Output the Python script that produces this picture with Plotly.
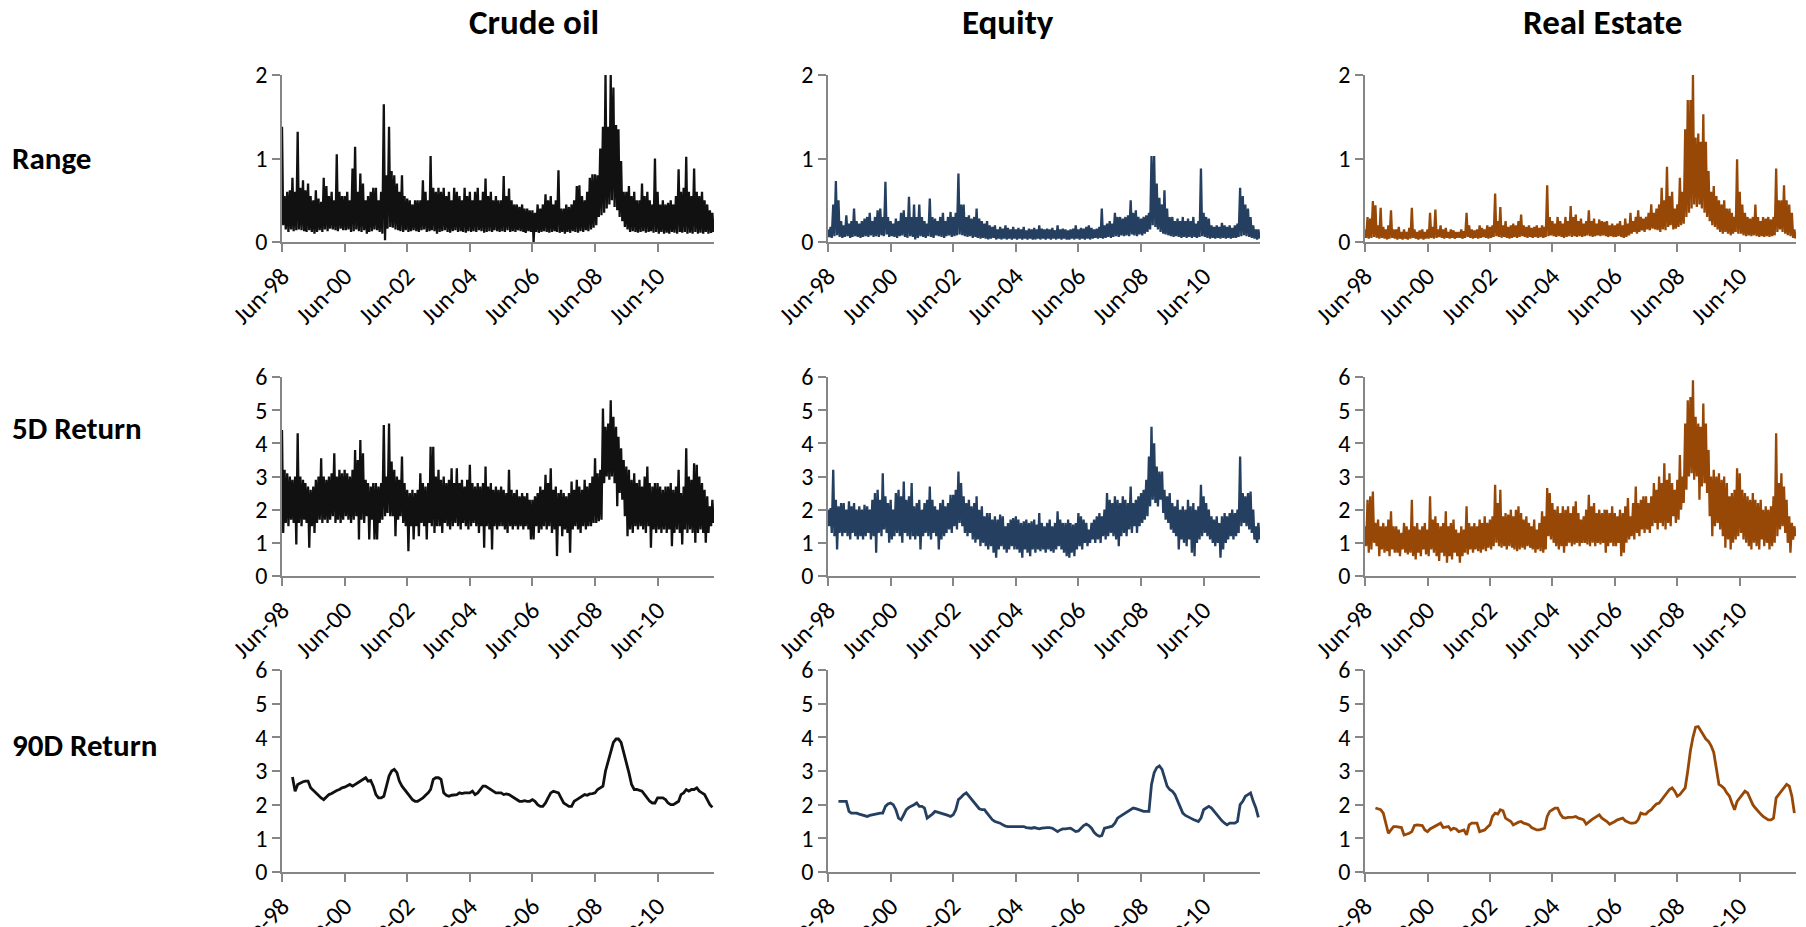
import pandas as pd
import plotly.graph_objects as go

# monthly readings, Jun-98 .. Mar-12 (hi = monthly peak, lo = monthly trough)
oil_range_hi = [1.38, 0.55, 0.6, 0.62, 0.77, 0.6, 1.32, 0.65, 0.74, 0.62, 0.7, 0.55,
                0.5, 0.62, 0.52, 0.48, 0.77, 0.67, 0.55, 0.6, 0.5, 1.05, 0.6, 0.55,
                0.55, 0.6, 0.5, 0.88, 1.14, 0.6, 0.82, 0.7, 0.5, 0.55, 0.6, 0.65,
                0.65, 0.5, 0.6, 1.65, 0.8, 1.38, 0.85, 0.8, 0.7, 0.6, 0.8, 0.55,
                0.52, 0.5, 0.45, 0.5, 0.5, 0.5, 0.74, 0.6, 0.5, 1.03, 0.65, 0.6,
                0.65, 0.6, 0.65, 0.55, 0.6, 0.5, 0.65, 0.6, 0.55, 0.5, 0.65, 0.55,
                0.6, 0.5, 0.6, 0.65, 0.5, 0.6, 0.76, 0.55, 0.6, 0.5, 0.55, 0.5,
                0.5, 0.79, 0.55, 0.64, 0.5, 0.45, 0.45, 0.42, 0.45, 0.4, 0.4, 0.38,
                0.38, 0.35, 0.45, 0.4, 0.45, 0.57, 0.5, 0.55, 0.45, 0.5, 0.86, 0.4,
                0.4, 0.45, 0.42, 0.45, 0.5, 0.67, 0.68, 0.55, 0.5, 0.6, 0.77, 0.81,
                0.81, 0.8, 1.12, 1.38, 2.0, 1.38, 2.0, 1.85, 1.4, 1.35, 0.97, 0.6,
                0.6, 0.67, 0.55, 0.6, 0.5, 0.5, 0.7, 0.55, 0.6, 0.5, 0.45, 1.0,
                0.6, 0.45, 0.5, 0.45, 0.47, 0.5, 0.45, 0.55, 0.87, 0.6, 0.65, 1.02,
                0.6, 0.55, 0.88, 0.6, 0.55, 0.6, 0.5, 0.45, 0.38, 0.35]
oil_range_lo = [0.2, 0.15, 0.12, 0.15, 0.13, 0.14, 0.15, 0.14, 0.13, 0.12, 0.14, 0.12,
                0.1, 0.12, 0.14, 0.12, 0.15, 0.13, 0.16, 0.15, 0.14, 0.13, 0.16, 0.14,
                0.14, 0.15, 0.12, 0.13, 0.15, 0.13, 0.12, 0.14, 0.1, 0.12, 0.13, 0.15,
                0.14, 0.12, 0.1, 0.02, 0.16, 0.18, 0.17, 0.15, 0.14, 0.13, 0.12, 0.14,
                0.12, 0.13, 0.14, 0.13, 0.12, 0.14, 0.15, 0.12, 0.13, 0.14, 0.13, 0.1,
                0.12, 0.13, 0.14, 0.12, 0.11, 0.13, 0.14, 0.12, 0.13, 0.12, 0.11, 0.13,
                0.12, 0.13, 0.12, 0.14, 0.13, 0.11, 0.12, 0.13, 0.12, 0.14, 0.13, 0.12,
                0.13, 0.12, 0.14, 0.12, 0.13, 0.12, 0.14, 0.13, 0.12, 0.11, 0.13, 0.12,
                0.0, 0.12, 0.11, 0.12, 0.13, 0.12, 0.11, 0.12, 0.13, 0.12, 0.11, 0.12,
                0.1, 0.12, 0.11, 0.13, 0.12, 0.11, 0.13, 0.12, 0.14, 0.13, 0.15, 0.17,
                0.2, 0.3, 0.32, 0.35, 0.4, 0.45, 0.5, 0.42, 0.38, 0.3, 0.25, 0.18,
                0.15, 0.12, 0.13, 0.12, 0.11, 0.12, 0.13, 0.11, 0.12, 0.13, 0.11, 0.12,
                0.1, 0.12, 0.1, 0.11, 0.1, 0.12, 0.11, 0.1, 0.12, 0.11, 0.12, 0.1,
                0.11, 0.1, 0.12, 0.1, 0.11, 0.1, 0.12, 0.1, 0.11, 0.12]

eq_range_hi = [0.15, 0.18, 0.45, 0.73, 0.5, 0.25, 0.2, 0.32, 0.22, 0.25, 0.4, 0.25,
               0.22, 0.25, 0.28, 0.3, 0.35, 0.25, 0.3, 0.38, 0.4, 0.3, 0.72, 0.3,
               0.25, 0.22, 0.28, 0.25, 0.35, 0.38, 0.3, 0.54, 0.3, 0.45, 0.3, 0.45,
               0.3, 0.25, 0.22, 0.52, 0.3, 0.28, 0.25, 0.3, 0.35, 0.25, 0.3, 0.36,
               0.3, 0.35, 0.82, 0.45, 0.45, 0.3, 0.32, 0.28, 0.3, 0.4, 0.28, 0.25,
               0.22, 0.25, 0.2, 0.18, 0.2, 0.15, 0.18, 0.16, 0.2, 0.17, 0.15, 0.18,
               0.15, 0.17, 0.15, 0.18, 0.14, 0.16, 0.15, 0.17, 0.15, 0.2, 0.16, 0.15,
               0.16, 0.15, 0.17, 0.14, 0.2, 0.15, 0.16, 0.15, 0.14, 0.15, 0.16, 0.2,
               0.15, 0.17, 0.16, 0.18, 0.2, 0.17, 0.15, 0.16, 0.18, 0.4, 0.2, 0.22,
               0.25, 0.22, 0.35, 0.3, 0.3, 0.28, 0.3, 0.32, 0.5, 0.35, 0.38, 0.3,
               0.28, 0.3, 0.32, 0.35, 1.03, 1.03, 0.7, 0.53, 0.45, 0.62, 0.4, 0.3,
               0.3, 0.25, 0.28, 0.25, 0.3, 0.25, 0.28, 0.25, 0.3, 0.22, 0.25, 0.88,
               0.35, 0.3, 0.28, 0.2, 0.18, 0.2, 0.18, 0.23, 0.2, 0.18, 0.2, 0.17,
               0.2, 0.22, 0.65, 0.55, 0.45, 0.4, 0.3, 0.2, 0.15, 0.15]
eq_range_lo = [0.06, 0.05, 0.07, 0.08, 0.06, 0.05, 0.06, 0.07, 0.05, 0.06, 0.07, 0.06,
               0.05, 0.06, 0.07, 0.06, 0.08, 0.06, 0.07, 0.06, 0.08, 0.07, 0.09, 0.06,
               0.07, 0.06, 0.05, 0.07, 0.08, 0.06, 0.05, 0.07, 0.06, 0.03, 0.05, 0.07,
               0.06, 0.05, 0.07, 0.06, 0.05, 0.08, 0.07, 0.06, 0.05, 0.07, 0.08, 0.06,
               0.07, 0.08, 0.09, 0.08, 0.07, 0.06, 0.07, 0.05, 0.06, 0.05, 0.04, 0.05,
               0.04, 0.03, 0.04, 0.05, 0.03, 0.04, 0.03, 0.04, 0.03, 0.04, 0.03, 0.04,
               0.03, 0.04, 0.03, 0.04, 0.03, 0.04, 0.03, 0.03, 0.04, 0.03, 0.04, 0.03,
               0.04, 0.03, 0.04, 0.03, 0.04, 0.03, 0.04, 0.03, 0.03, 0.04, 0.03, 0.04,
               0.03, 0.04, 0.03, 0.04, 0.03, 0.04, 0.05, 0.04, 0.05, 0.04, 0.05, 0.06,
               0.05, 0.06, 0.07, 0.06, 0.08, 0.07, 0.08, 0.07, 0.09, 0.08, 0.07, 0.09,
               0.08, 0.1, 0.12, 0.15, 0.2, 0.18, 0.15, 0.12, 0.1, 0.09, 0.08, 0.07,
               0.06, 0.07, 0.06, 0.05, 0.06, 0.05, 0.06, 0.05, 0.06, 0.05, 0.06, 0.07,
               0.06, 0.05, 0.04, 0.05, 0.04, 0.05, 0.04, 0.05, 0.04, 0.05, 0.04, 0.05,
               0.05, 0.06, 0.07, 0.08, 0.07, 0.06, 0.05, 0.04, 0.03, 0.04]

re_range_hi = [0.15, 0.3, 0.28, 0.49, 0.44, 0.2, 0.41, 0.18, 0.15, 0.2, 0.38, 0.15,
               0.15, 0.18, 0.12, 0.15, 0.12, 0.17, 0.41, 0.15, 0.12, 0.14, 0.15, 0.12,
               0.15, 0.35, 0.18, 0.39, 0.15, 0.2, 0.15, 0.17, 0.12, 0.15, 0.14, 0.12,
               0.12, 0.15, 0.13, 0.35, 0.2, 0.15, 0.14, 0.15, 0.2, 0.17, 0.15, 0.2,
               0.18, 0.2, 0.58, 0.25, 0.42, 0.2, 0.25, 0.18, 0.2, 0.22, 0.2, 0.25,
               0.33, 0.2, 0.18, 0.2, 0.17, 0.18, 0.2, 0.17, 0.2, 0.18, 0.68, 0.3,
               0.25, 0.22, 0.3, 0.25, 0.22, 0.3, 0.25, 0.43, 0.3, 0.33, 0.25, 0.28,
               0.22, 0.25, 0.38, 0.25, 0.28, 0.22, 0.27, 0.25, 0.24, 0.25, 0.2, 0.22,
               0.2, 0.22, 0.25, 0.2, 0.28, 0.22, 0.35, 0.25, 0.3, 0.38, 0.3, 0.28,
               0.3, 0.35, 0.45, 0.35, 0.4, 0.45, 0.65, 0.5, 0.9, 0.55, 0.6, 0.4,
               0.45, 0.77, 0.6, 1.35, 1.7, 1.7, 2.0, 1.25, 1.3, 1.2, 1.53, 1.2,
               0.85, 0.6, 0.67, 0.55, 0.5, 0.45, 0.5, 0.4, 0.4, 0.35, 0.3, 0.99,
               0.6, 0.45, 0.35, 0.3, 0.28, 0.3, 0.45, 0.3, 0.25, 0.3, 0.28, 0.3,
               0.27, 0.3, 0.88, 0.5, 0.5, 0.68, 0.5, 0.45, 0.35, 0.15]
re_range_lo = [0.05, 0.04, 0.05, 0.06, 0.05, 0.04, 0.05, 0.04, 0.03, 0.04, 0.05, 0.04,
               0.03, 0.04, 0.03, 0.04, 0.03, 0.04, 0.05, 0.04, 0.03, 0.04, 0.03, 0.04,
               0.04, 0.05, 0.04, 0.05, 0.06, 0.05, 0.04, 0.05, 0.04, 0.05, 0.04, 0.05,
               0.05, 0.04, 0.05, 0.06, 0.05, 0.04, 0.05, 0.04, 0.05, 0.06, 0.05, 0.04,
               0.05, 0.06, 0.07, 0.06, 0.05, 0.06, 0.05, 0.04, 0.05, 0.06, 0.05, 0.06,
               0.07, 0.06, 0.05, 0.06, 0.05, 0.06, 0.05, 0.06, 0.05, 0.06, 0.07, 0.08,
               0.07, 0.06, 0.07, 0.06, 0.05, 0.06, 0.07, 0.06, 0.07, 0.06, 0.07, 0.06,
               0.07, 0.08, 0.07, 0.06, 0.07, 0.08, 0.07, 0.08, 0.07, 0.06, 0.07, 0.06,
               0.06, 0.07, 0.06, 0.05, 0.06, 0.08, 0.1, 0.12, 0.1, 0.12, 0.14, 0.12,
               0.15, 0.14, 0.16, 0.15, 0.14, 0.12, 0.15, 0.14, 0.18, 0.2, 0.15, 0.16,
               0.18, 0.2, 0.22, 0.3, 0.35, 0.4, 0.45, 0.42, 0.45, 0.4, 0.35, 0.3,
               0.25, 0.2, 0.18, 0.15, 0.12, 0.1, 0.12, 0.1, 0.08, 0.1, 0.12, 0.1,
               0.1, 0.08, 0.07, 0.08, 0.07, 0.08, 0.07, 0.06, 0.07, 0.06, 0.07, 0.06,
               0.07, 0.08, 0.12, 0.15, 0.12, 0.1, 0.08, 0.07, 0.05, 0.04]

oil_5d_hi = [4.4, 3.2, 3.1, 3.0, 2.9, 3.0, 4.3, 3.0, 2.9, 2.8, 2.7, 2.6,
             2.7, 2.9, 3.0, 3.55, 3.0, 2.9, 3.0, 3.1, 3.7, 3.0, 3.2, 3.1,
             3.2, 3.1, 3.0, 3.2, 3.8, 3.5, 4.1, 3.7, 2.9, 2.8, 2.7, 2.8,
             2.8, 2.7, 2.8, 4.55, 3.0, 4.6, 3.45, 3.2, 3.0, 2.9, 3.6, 2.8,
             2.6, 2.5, 2.6, 2.5, 2.6, 3.1, 2.8, 2.7, 2.8, 3.9, 3.9, 3.0,
             3.2, 2.9, 3.0, 2.8, 2.9, 3.25, 2.8, 3.25, 2.8, 2.9, 2.7, 2.9,
             3.35, 2.8, 2.7, 2.8, 2.7, 2.8, 3.3, 2.7, 2.8, 2.6, 2.7, 2.6,
             2.7, 2.6, 2.5, 3.2, 2.6, 2.5, 2.6, 2.4, 2.5, 2.4, 2.5, 2.3,
             2.3, 2.4, 2.5, 2.7, 2.6, 3.05, 2.8, 3.25, 2.6, 2.7, 2.5, 2.6,
             2.5, 2.4, 2.5, 2.85, 2.6, 2.9, 2.7, 2.6, 2.9, 2.7, 2.8, 3.0,
             3.55, 3.1, 3.2, 5.05, 4.5, 4.6, 5.3, 4.8, 4.5, 4.2, 3.85, 3.5,
             3.3, 3.2, 2.9, 3.1, 2.8, 2.9, 2.7, 3.0, 3.3, 2.8, 2.7, 2.8,
             2.8, 2.7, 2.6, 2.7, 2.7, 2.8, 2.6, 2.7, 3.2, 2.5, 2.7, 3.85,
             3.0, 2.9, 3.4, 3.35, 3.0, 2.8, 2.6, 2.4, 2.1, 2.3]
oil_5d_lo = [1.3, 1.6, 1.5, 1.7, 1.6, 0.95, 1.6, 1.5, 1.7, 1.6, 0.85, 1.5,
             1.3, 1.6, 1.7, 1.6, 1.7, 1.6, 1.7, 1.8, 1.6, 1.7, 1.6, 1.7,
             1.8, 1.7, 1.6, 1.7, 1.8, 1.1, 1.7, 1.6, 1.8, 1.1, 1.7, 1.1,
             1.1, 1.6, 1.7, 1.8, 1.9, 1.8, 1.8, 1.2, 1.7, 1.8, 1.6, 1.5,
             0.75, 1.5, 1.1, 1.5, 1.2, 1.6, 1.5, 1.1, 1.6, 1.5, 1.3, 1.5,
             1.5, 1.3, 1.6, 1.5, 1.4, 1.5, 1.6, 1.5, 1.4, 1.6, 1.5, 1.4,
             1.5, 1.6, 1.5, 1.3, 1.5, 0.85, 1.5, 1.4, 0.8, 1.5, 1.4, 1.5,
             1.5, 1.4, 1.3, 1.5, 1.4, 1.5, 1.4, 1.5, 1.4, 1.5, 1.4, 1.1,
             1.1, 1.5, 1.3, 1.4, 1.5, 1.4, 1.5, 1.3, 1.4, 0.6, 1.5, 1.2,
             1.4, 1.3, 0.7, 1.4, 1.5, 1.4, 1.3, 1.5, 1.4, 1.5, 1.5, 1.6,
             1.6, 1.65, 1.7, 2.8, 3.0, 2.9, 3.0, 2.8, 2.1, 2.5, 2.3, 1.8,
             1.2, 1.4, 1.3, 1.5, 1.4, 1.5, 1.4, 1.3, 1.5, 0.85, 1.4, 1.3,
             1.4, 1.3, 1.4, 1.3, 1.4, 0.9, 1.3, 1.4, 1.3, 0.95, 1.4, 1.3,
             1.4, 1.3, 1.0, 1.3, 1.4, 1.3, 1.0, 1.3, 1.5, 1.6]

eq_5d_hi = [2.0, 2.05, 3.2, 2.3, 2.1, 2.2, 2.2, 2.0, 2.25, 2.1, 2.2, 2.0,
            2.1, 2.0, 2.15, 2.1, 2.0, 2.3, 2.5, 2.6, 2.3, 3.1, 2.4, 2.2,
            2.3, 2.0, 2.5, 2.6, 2.4, 2.85, 2.3, 2.4, 2.8, 2.1, 2.2, 2.3,
            2.0, 2.2, 2.3, 2.7, 2.3, 2.1, 2.0, 2.2, 2.3, 2.1, 2.2, 2.45,
            2.45, 2.6, 3.15, 2.8, 2.4, 2.2, 2.3, 2.1, 2.2, 2.4, 2.0, 2.1,
            1.8, 1.9, 1.9, 1.7, 1.8, 1.7, 1.85, 1.8, 1.5, 1.6, 1.7, 1.75,
            1.8, 1.7, 1.6, 1.65, 1.7, 1.6, 1.65, 1.7, 1.55, 1.9, 1.6, 1.5,
            1.6, 1.7, 1.5, 1.6, 1.95, 1.7, 1.6, 1.6, 1.7, 1.6, 1.55, 1.6,
            1.9, 1.8, 1.7, 1.6, 1.4, 1.6, 1.7, 1.8, 1.9, 1.8, 2.0, 2.5,
            2.3, 2.2, 2.4, 2.3, 2.2, 2.4, 2.3, 2.2, 2.7, 2.2, 2.3, 2.4,
            2.5, 2.6, 2.9, 3.6, 4.5, 4.0, 3.3, 3.15, 3.15, 2.6, 2.4, 2.5,
            2.2, 2.1, 2.3, 2.0, 2.1, 2.0, 2.3, 2.1, 2.2, 2.0, 2.1, 2.75,
            2.4, 2.2, 2.0, 1.8, 1.7, 1.8, 1.6, 1.8, 1.9, 1.8, 1.9, 2.0,
            1.9, 2.0, 3.6, 2.5, 2.4, 2.5, 2.55, 2.0, 1.5, 1.6]
eq_5d_lo = [1.5, 1.3, 1.2, 0.8, 1.3, 1.2, 1.3, 1.2, 1.1, 1.3, 1.2, 1.1,
            1.2, 1.1, 1.2, 1.3, 1.1, 1.2, 0.7, 1.3, 1.2, 1.4, 1.3, 1.0,
            1.1, 1.2, 1.3, 1.2, 1.0, 1.3, 1.2, 1.1, 1.2, 1.1, 1.2, 0.8,
            1.2, 1.3, 1.2, 1.1, 1.3, 1.2, 0.8, 1.1, 1.2, 1.3, 1.4, 1.3,
            1.5, 1.4, 1.6, 1.5, 1.3, 1.2, 1.3, 1.1, 1.0, 1.1, 0.9, 1.0,
            0.9, 0.8, 0.9, 0.7, 0.55, 0.8, 0.9, 0.8, 0.7, 0.8, 0.9, 0.8,
            0.8, 0.7, 0.55, 0.8, 0.7, 0.6, 0.8, 0.7, 0.8, 0.75, 0.8, 0.7,
            0.8, 0.75, 0.7, 0.8, 0.9, 0.8, 0.7, 0.6, 0.55, 0.7, 0.6, 0.8,
            0.9, 0.8, 1.0, 0.9, 1.0, 1.1, 1.0, 1.1, 1.0, 1.2, 1.1, 1.2,
            1.3, 1.2, 1.1, 0.9, 1.2, 1.3, 1.2, 1.4, 1.3, 1.5, 1.3, 1.5,
            1.6, 1.7, 1.8, 2.1, 2.3, 2.2, 2.1, 2.3, 1.9, 1.7, 1.6, 1.4,
            1.3, 1.2, 0.8, 1.1, 1.0, 0.9, 1.1, 0.7, 0.6, 1.0, 1.1, 1.2,
            1.3, 1.2, 1.1, 1.0, 0.9, 1.0, 0.55, 0.8, 1.0, 1.1, 1.2, 1.1,
            1.2, 1.3, 1.5, 1.6, 1.5, 1.4, 1.3, 1.1, 1.0, 1.1]

re_5d_hi = [1.5, 2.3, 2.4, 2.55, 1.6, 1.7, 1.5, 1.6, 1.5, 1.7, 1.95, 1.5,
            1.5, 1.4, 1.3, 1.6, 1.5, 1.4, 2.3, 1.5, 1.6, 1.4, 1.5, 1.6,
            1.4, 2.4, 1.7, 1.8, 1.6, 1.5, 1.6, 1.95, 1.5, 1.6, 1.7, 1.4,
            1.3, 1.5, 1.4, 2.1, 1.6, 1.5, 1.6, 1.5, 1.7, 1.6, 1.8, 1.6,
            1.7, 1.8, 2.75, 2.2, 2.6, 1.8, 1.9, 1.85, 2.0, 1.8, 2.0, 2.1,
            1.9, 1.7, 1.8, 1.6, 1.5, 1.7, 1.4, 1.6, 1.95, 1.8, 2.65, 2.5,
            2.2, 2.0, 2.1, 1.9, 2.1, 2.0, 2.1, 1.9, 2.1, 2.25, 1.9, 1.7,
            1.8, 2.0, 2.45, 2.1, 2.2, 1.9, 2.0, 1.9, 2.0, 2.0, 1.9, 2.1,
            1.9, 1.8, 2.0, 1.9, 2.1, 2.35, 1.8, 2.2, 2.7, 2.2, 2.3, 2.4,
            2.4, 2.2, 2.4, 2.8, 2.6, 3.0, 2.8, 3.4, 2.9, 3.1, 2.8, 2.6,
            2.9, 3.65, 3.0, 4.6, 5.3, 5.4, 5.9, 4.8, 4.6, 4.5, 5.2, 4.6,
            3.8, 3.0, 3.2, 3.0, 3.1, 2.9, 3.0, 2.8, 2.4, 2.5, 2.6, 3.25,
            3.1, 2.6, 2.5, 2.4, 2.3, 2.5, 2.3, 2.2, 2.3, 2.0, 2.1, 2.0,
            2.1, 2.4, 4.3, 2.8, 3.1, 2.7, 2.3, 1.8, 1.6, 1.5]
re_5d_lo = [0.9, 0.7, 0.8, 1.0, 0.9, 0.6, 0.8, 0.7, 0.75, 0.6, 0.8, 0.7,
            0.7, 0.6, 0.8, 0.7, 0.65, 0.7, 0.6, 0.5, 0.7, 0.6, 0.8, 0.65,
            0.6, 0.8, 0.7, 0.6, 0.45, 0.7, 0.6, 0.4, 0.6, 0.5, 0.7, 0.6,
            0.4, 0.6, 0.7, 0.65, 0.8, 0.7, 0.8, 0.75, 0.7, 0.8, 0.75, 0.85,
            0.8, 0.9, 1.0, 0.9, 0.85, 0.9, 0.8, 0.9, 0.85, 0.8, 0.75, 0.8,
            0.85, 0.8, 0.9, 0.85, 0.8, 0.7, 0.8, 0.75, 0.7, 0.8, 1.2, 1.1,
            1.0, 0.9, 0.8, 0.9, 0.7, 0.9, 1.0, 0.9, 0.95, 1.0, 0.9, 1.0,
            1.0, 0.95, 0.9, 1.0, 0.9, 1.0, 0.95, 1.0, 0.7, 0.9, 1.0, 0.9,
            0.9, 1.0, 0.6, 0.7, 1.0, 1.1, 1.2, 1.1, 1.3, 1.2, 1.4, 1.3,
            1.4, 1.3, 1.5, 1.6, 1.4, 1.6, 1.5, 1.4, 1.6, 1.5, 1.8, 1.6,
            1.7, 2.0, 2.2, 2.6, 3.0, 3.1, 2.9, 3.0, 2.3, 2.7, 2.8, 2.5,
            1.8, 1.2, 1.5, 1.6, 1.4, 1.2, 0.85, 1.1, 0.8, 1.0, 1.1, 1.2,
            1.3, 1.1, 1.0, 0.9, 0.8, 1.0, 0.9, 0.8, 1.1, 0.9, 1.0, 0.8,
            0.9, 1.0, 1.2, 1.4, 1.5, 1.3, 1.0, 0.7, 1.1, 1.2]

# 90 day series, monthly from Oct-98 .. Mar-12
oil_90d = [2.82, 2.4, 2.6, 2.65, 2.68, 2.7, 2.7, 2.5,
           2.42, 2.35, 2.28, 2.2, 2.15, 2.22, 2.3, 2.33, 2.38, 2.42, 2.45, 2.5,
           2.52, 2.55, 2.6, 2.55, 2.6, 2.65, 2.7, 2.75, 2.8, 2.7, 2.72, 2.55,
           2.3, 2.2, 2.2, 2.25, 2.55, 2.85, 3.0, 3.05, 2.95, 2.7, 2.55, 2.45,
           2.35, 2.25, 2.15, 2.1, 2.1, 2.15, 2.2, 2.28, 2.35, 2.45, 2.75, 2.8,
           2.8, 2.75, 2.35, 2.28, 2.25, 2.28, 2.3, 2.3, 2.35, 2.33, 2.35, 2.35,
           2.35, 2.4, 2.3, 2.35, 2.45, 2.55, 2.55, 2.5, 2.45, 2.38, 2.35, 2.35,
           2.35, 2.3, 2.32, 2.3, 2.25, 2.2, 2.15, 2.1, 2.1, 2.12, 2.1, 2.1,
           2.15, 2.1, 2.0, 1.95, 1.95, 2.05, 2.2, 2.35, 2.4, 2.38, 2.35, 2.2,
           2.05, 2.0, 1.95, 1.95, 2.1, 2.15, 2.2, 2.25, 2.3, 2.28, 2.32, 2.33,
           2.35, 2.45, 2.5, 2.55, 3.0, 3.3, 3.55, 3.85, 3.95, 3.95, 3.85, 3.55,
           3.3, 2.95, 2.6, 2.45, 2.45, 2.42, 2.4, 2.3, 2.2, 2.1, 2.05, 2.05,
           2.2, 2.2, 2.2, 2.15, 2.05, 2.0, 2.0, 2.05, 2.1, 2.3, 2.35, 2.45,
           2.4, 2.45, 2.45, 2.5, 2.4, 2.35, 2.3, 2.15, 2.0, 1.92]
eq_90d = [2.1, 2.1, 2.1, 2.1, 1.8, 1.75, 1.75, 1.75,
          1.72, 1.7, 1.68, 1.65, 1.68, 1.7, 1.72, 1.72, 1.75, 1.75, 1.95, 2.02,
          2.05, 2.0, 1.85, 1.6, 1.55, 1.7, 1.85, 1.92, 1.95, 2.0, 2.05, 1.95,
          1.95, 1.9, 1.6, 1.65, 1.72, 1.8, 1.78, 1.75, 1.72, 1.7, 1.68, 1.65,
          1.7, 1.85, 2.15, 2.22, 2.3, 2.35, 2.25, 2.15, 2.05, 1.95, 1.88, 1.85,
          1.85, 1.75, 1.65, 1.55, 1.5, 1.48, 1.45, 1.4, 1.36, 1.35, 1.35, 1.35,
          1.35, 1.36, 1.34, 1.35, 1.32, 1.3, 1.3, 1.32, 1.3, 1.28, 1.3, 1.32,
          1.32, 1.32, 1.3, 1.25, 1.2, 1.25, 1.28, 1.28, 1.3, 1.3, 1.25, 1.2,
          1.22, 1.3, 1.38, 1.42, 1.38, 1.3, 1.18, 1.1, 1.06, 1.08, 1.3, 1.32,
          1.33, 1.36, 1.45, 1.6, 1.65, 1.7, 1.75, 1.78, 1.85, 1.9, 1.88, 1.85,
          1.82, 1.8, 1.8, 1.8, 2.6, 2.95, 3.1, 3.15, 3.05, 2.8, 2.55, 2.45,
          2.4, 2.3, 2.1, 1.9, 1.75, 1.68, 1.63, 1.6, 1.56, 1.52, 1.5, 1.6,
          1.85, 1.9, 1.95, 1.9, 1.8, 1.72, 1.6, 1.52, 1.45, 1.4, 1.45, 1.44,
          1.45, 1.5, 2.0, 2.1, 2.25, 2.3, 2.35, 2.1, 1.9, 1.62]
re_90d = [1.9, 1.88, 1.85, 1.75, 1.4, 1.15, 1.25, 1.35,
          1.35, 1.33, 1.32, 1.1, 1.12, 1.15, 1.2, 1.38, 1.4, 1.4, 1.38, 1.25,
          1.2, 1.28, 1.32, 1.35, 1.4, 1.45, 1.32, 1.33, 1.35, 1.25, 1.3, 1.28,
          1.2, 1.22, 1.25, 1.1, 1.4, 1.45, 1.45, 1.45, 1.2, 1.22, 1.25, 1.33,
          1.4, 1.65, 1.75, 1.72, 1.85, 1.82, 1.6, 1.55, 1.5, 1.4, 1.45, 1.48,
          1.5, 1.45, 1.43, 1.4, 1.32, 1.28, 1.25, 1.25, 1.27, 1.3, 1.65, 1.8,
          1.85, 1.9, 1.9, 1.72, 1.62, 1.6, 1.62, 1.62, 1.63, 1.65, 1.6, 1.58,
          1.55, 1.42, 1.5, 1.55, 1.6, 1.65, 1.7, 1.6, 1.55, 1.5, 1.42, 1.45,
          1.5, 1.55, 1.58, 1.6, 1.52, 1.48, 1.45, 1.45, 1.47, 1.55, 1.75, 1.72,
          1.72, 1.8, 1.85, 1.95, 2.02, 2.05, 2.15, 2.25, 2.35, 2.45, 2.5, 2.4,
          2.25, 2.3, 2.4, 2.5, 3.0, 3.6, 4.0, 4.3, 4.32, 4.2, 4.1, 3.95,
          3.88, 3.75, 3.55, 3.1, 2.6, 2.55, 2.48, 2.35, 2.25, 2.05, 1.85, 2.1,
          2.2, 2.3, 2.4, 2.35, 2.15, 2.0, 1.9, 1.8, 1.72, 1.65, 1.6, 1.55,
          1.55, 1.6, 2.2, 2.3, 2.4, 2.5, 2.6, 2.55, 2.25, 1.75]

assets = ['Crude oil', 'Equity', 'Real Estate']
measures = ['Range', '5D Return', '90D Return']
colors = ['#111111', '#243F60', '#974806']
tick_dates = ['1998-06-01', '2000-06-01', '2002-06-01', '2004-06-01',
              '2006-06-01', '2008-06-01', '2010-06-01']
tick_text = ['Jun-98', 'Jun-00', 'Jun-02', 'Jun-04', 'Jun-06', 'Jun-08', 'Jun-10']

months = pd.date_range('1998-06-01', periods=170, freq='MS')
half = pd.Timedelta(days=14)


def zigzag(hi, lo):
    xs, ys = [], []
    for d, h, l in zip(months, hi, lo):
        xs += [d, d + half]
        ys += [h, l]
    return xs, ys


noisy = [[(oil_range_hi, oil_range_lo), (eq_range_hi, eq_range_lo), (re_range_hi, re_range_lo)],
         [(oil_5d_hi, oil_5d_lo), (eq_5d_hi, eq_5d_lo), (re_5d_hi, re_5d_lo)]]
smooth = [oil_90d, eq_90d, re_90d]

# page body adds an 8px offset, positions below are relative to the figure div
W, H = 1806, 927
col_px = [(274, 706), (820, 1252), (1357, 1788)]
row_px = [(67, 234), (369, 568), (662, 864)]
font = 'Calibri, Carlito, Lato, sans-serif'
axis_grey = '#868686'

fig = go.Figure()
layout = {}
n = 0
for r in range(3):
    for c in range(3):
        n += 1
        suffix = '' if n == 1 else str(n)
        if r < 2:
            hi, lo = noisy[r][c]
            xs, ys = zigzag(hi, lo)
            width = 2.3
        else:
            xs = months[4:4 + len(smooth[c])]
            ys = smooth[c]
            width = 2.8
        fig.add_trace(go.Scatter(x=xs, y=ys, mode='lines', showlegend=False,
                                 line=dict(color=colors[c], width=width),
                                 xaxis='x' + suffix, yaxis='y' + suffix))
        x0, x1 = col_px[c]
        y0, y1 = row_px[r]
        layout['xaxis' + suffix] = dict(
            domain=[x0 / W, x1 / W], anchor='y' + suffix, type='date',
            range=['1998-06-01', '2012-03-20'], automargin=False,
            tickvals=tick_dates, ticktext=tick_text, tickangle=-45,
            showline=True, linecolor=axis_grey, linewidth=1.5,
            ticks='outside', ticklen=8, tickcolor=axis_grey, tickwidth=1.5,
            showgrid=False, zeroline=False,
            tickfont=dict(family=font, size=25, color='#000000'))
        ymax = 2 if r == 0 else 6
        layout['yaxis' + suffix] = dict(
            domain=[1 - y1 / H, 1 - y0 / H], anchor='x' + suffix, automargin=False,
            range=[0, ymax], tickvals=list(range(ymax + 1)),
            showline=True, linecolor=axis_grey, linewidth=1.5,
            ticks='outside', ticklen=8, tickcolor=axis_grey, tickwidth=1.5,
            showgrid=False, zeroline=False,
            tickfont=dict(family=font, size=24, color='#000000'))

annotations = []
title_x = [526, 1000, 1594]
for c in range(3):
    annotations.append(dict(text='<b>' + assets[c] + '</b>', x=title_x[c] / W, y=1 - 14 / H,
                            xref='paper', yref='paper', xanchor='center', yanchor='middle',
                            showarrow=False, font=dict(family=font, size=35, color='#000000')))
label_y = [150, 420, 737]
for r in range(3):
    annotations.append(dict(text='<b>' + measures[r] + '</b>', x=2 / W, y=1 - label_y[r] / H,
                            xref='paper', yref='paper', xanchor='left', yanchor='middle',
                            showarrow=False, font=dict(family=font, size=31, color='#000000')))

fig.update_layout(width=W, height=H, margin=dict(l=0, r=0, t=0, b=0, autoexpand=False),
                  paper_bgcolor='white', plot_bgcolor='white',
                  annotations=annotations, **layout)

fig.write_html('out.html')
